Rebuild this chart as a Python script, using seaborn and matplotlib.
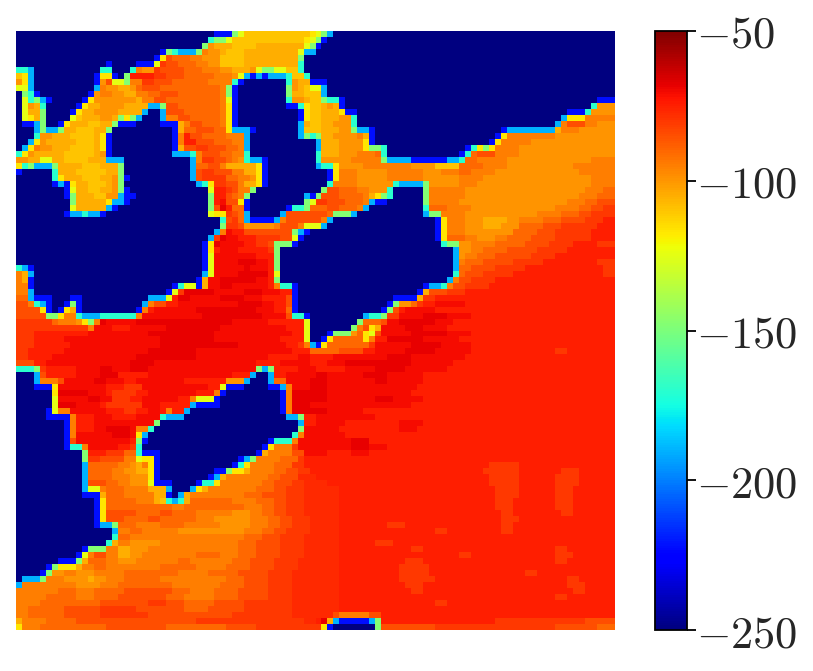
import matplotlib
matplotlib.use("Agg")
import matplotlib.pyplot as plt
import numpy as np
import seaborn as sns

# value of each letter used in the rows below
levels = {".": -250, "b": -222, "c": -190, "t": -170, "g": -148, "y": -125, "Y": -117,
          "A": -110, "B": -105, "C": -100, "D": -95, "E": -90, "F": -85, "G": -80,
          "L": -77, "H": -75, "I": -71, "J": -68}

# one string per row, "33b" = from column 33 on the value is b
rows = [
    "0. 33b 36g 37y 38A 49Y 50y 51g 52c 53.",
    "0. 32t 33g 35y 36A 48Y 49y 50g 51b 52.",
    "0. 31g 32C 33B 36A 40B 48y 49g 50b 51.",
    "0. 24b 25g 26t 27c 30g 31D 32C 34B 35A 38B 47y 48c 50.",
    "0. 23b 24Y 25F 26E 29D 31C 34A 38B 47g 48.",
    "0. 15b 16. 20b 23y 24G 25F 27E 30D 32C 34A 38B 47t 48.",
    "0t 2c 3. 14t 16. 19t 20D 21C 23G 24F 28E 31D 34C 36B 39C 40y 41g 43y 45A 47t 48.",
    "0A 1Y 2c 3. 13b 14Y 16b 17. 18g 19H 23G 25F 28E 33D 36C 37y 38c 39b 40c 41b 42c 45t 46A 48t 49.",
    "0C 1Y 2c 3. 13b 14C 15F 16y 18g 19D 21G 23F 26E 32D 36t 37b 38. 45t 46C 47B 49b 52.",
    "0y 2c 3. 13c 14D 15C 17B 19C 20E 21F 24E 34D 35g 36b 37. 45g 46C 47B 48A 49y 51c 52.",
    "0. 1g 2t 3b 4. 12b 13C 14D 16C 18B 20D 22E 24F 27E 34D 35g 36b 37. 45g 46B 48A 51c 52.",
    "0. 1y 2t 3g 4c 5b 6. 11b 12Y 13C 20B 21D 23F 25E 34D 35y 36b 37. 45t 46C 48B 49A 51g 52t 54b 55. 97b",
    "0. 1y 2C 3B 4t 5. 10b 11Y 12B 14C 18B 21B 22c 24g 25F 27E 34D 35Y 36b 37. 45b 47t 48Y 49A 51B 52C 53B 54b 55. 96t 97C",
    "0. 1y 2B 4g 5. 9b 10Y 11B 13C 17B 21c 22. 24c 25F 28E 34D 35Y 36b 37. 47b 48Y 49A 51B 54Y 55b 57. 92b 95t 96C",
    "0. 1y 2Y 3B 4g 5. 9y 10A 11B 14C 16B 17g 18Y 19g 20c 21. 24c 25D 27F 29E 34D 35Y 36b 37. 47b 48Y 49A 51B 54C 56t 57. 91c 92Y 95D",
    "0. 1b 3c 4g 5. 7b 8Y 9B 12A 14B 16g 17b 20. 24b 27B 28D 29F 31E 34D 35Y 36b 37. 47c 48B 49A 51B 53C 56t 57. 90c 91D 92F 95D 97C",
    "0. 3c 4g 5c 7g 8B 10A 13B 15g 16. 26b 27B 28E 30F 33E 35Y 36c 39b 40. 47c 48A 51B 54C 56g 57c 59b 60. 81b 82c 90B 91D 94C",
    "0. 3t 4C 6B 9A 13B 14Y 15b 16. 26b 27D 28H 29F 31E 35D 38c 39. 47c 48g 49t 50g 51B 53C 57D 58B 59b 60. 80b 81Y 82D 90C",
    "0. 2c 3Y 4C 5B 10A 13B 14Y 15b 16. 26b 27D 28H 30F 33E 36D 38c 39. 50c 51B 54C 58Y 59b 60. 79b 80Y 81D 86C",
    "0. 1c 2Y 3D 4C 6B 9A 13B 14Y 15b 16. 26b 27B 28F 30G 32F 35E 37D 38c 39. 50c 51B 54C 58Y 59g 61t 62. 75b 76t 77Y 78g 79Y 80D 84C",
    "0t 1Y 2C 3B 8A 13B 14C 15b 16. 26c 29t 30D 31F 34E 36D 38t 39. 50t 51B 54C 57D 60E 61t 62. 74b 75t 76E 77F 80D 84C",
    "0C 2B 4y 6B 8A 12B 15c 18. 29c 30D 31G 33F 35E 36D 37C 38t 39c 41b 42. 50t 51C 56D 61g 62c 66b 72c 74t 75E 77D 82C 96D",
    "0Y 1t 2g 3c 6g 7B 11A 14B 17g 18. 29c 30E 32F 34D 35B 40Y 41b 42. 50c 51t 53Y 54C 58D 66C 70A 74E 78D 82C 93D",
    "0b 1. 6t 7B 10A 15B 17g 18. 29c 30F 31G 33F 36D 38B 40Y 41b 42. 52b 53Y 54D 57C 62D 68C 71D 74E 76D 80C 94D",
    "0. 6t 7Y 8B 11A 14B 16C 17g 18b 19. 29c 30F 31G 35E 37D 39C 40Y 41b 42. 52b 53Y 54D 57C 62D 68C 74D 78C 96D",
    "0. 6b 7c 8b 9Y 10B 12A 15B 16C 17g 18. 30c 31t 32Y 33G 35F 37D 38B 40Y 41b 42. 52t 53D 57C 63t 64c 68g 69C 74D 77C 96D",
    "0. 8b 9y 10B 12A 14B 16C 17g 18b 19. 32y 33H 35G 36F 37D 39g 40. 51g 52F 54E 57D 59C 62t 63. 68g 69D 75C 95D 98E",
    "0. 8b 9g 10B 13A 15C 17c 18b 20. 32g 33H 35F 36E 37D 38g 39. 48c 49b 50g 51F 54E 58D 59B 60Y 61g 62t 63. 68g 69D 75C 94D 97E",
    "0. 9g 10B 15Y 16c 18b 19. 32g 33H 34I 35F 37Y 38b 39. 48g 49y 50G 52F 55E 58D 59c 60b 62. 68g 69D 74C 92D 95E 97F",
    "0. 9y 10B 15c 16b 17. 32g 33F 34J 35H 36E 38b 39. 45b 46t 48g 49E 52F 54E 57D 58c 59. 68t 69E 72D 76C 90D 94E 96F 98G",
    "0. 8b 9c 11t 12c 14b 15. 32y 33Y 35G 36F 37E 38c 39. 44c 45F 52E 53g 56c 57. 68c 69g 71D 75C 87D 91E 94F 96G",
    "0. 34t 35F 36G 37E 38c 39b 43c 44D 45F 51D 52c 53. 70b 71Y 72D 75C 78B 82C 84D 88E 91F 95G 98H",
    "0. 34g 35G 37F 38C 43D 44F 47D 48y 51c 52. 70b 71Y 72D 75C 78B 81C 84E 88F 91G 97H",
    "0. 33c 34D 35I 36H 38F 46g 47c 48b 49. 70b 71Y 72D 75C 83E 87F 90G 96H",
    "0. 32c 33G 34J 35I 37H 40G 44F 46y 47b 48. 70b 71Y 72E 75D 77C 80D 82E 86F 90G 96H",
    "0. 31b 32Y 33J 34I 38H 40G 42F 43g 46b 47. 71t 72g 74C 76D 80E 85F 89G 93H 97G",
    "0. 31b 32Y 33H 34I 37H 42G 43g 44. 73c 74C 76D 78E 82F 87G 92H",
    "0. 31b 32y 33I 40H 43g 44. 73c 74C 75D 77E 80F 86G 90H",
    "0. 31b 32y 33I 37J 40I 42H 43g 44. 73c 74D 75E 78F 83G 88H 97G",
    "0t 1c 2b 3. 31b 32y 33I 38J 39I 42H 43g 44. 73c 74E 76F 80G 85H 98G",
    "0D 1B 2c 3. 31c 32y 33I 37J 42H 43y 44. 73t 74E 75F 78G 83H 98G",
    "0D 1B 2b 3. 30b 31B 32I 34J 40I 42H 43g 44. 72c 73D 74F 76G 80H",
    "0D 2b 3. 26b 27t 28y 30b 31B 32I 34J 36I 42H 43D 44t 46b 47. 68b 69c 71t 72D 73F 75G 79H",
    "0D 2c 3. 25b 26y 27G 28J 33I 38J 41I 44H 46b 47. 67b 68B 69F 72G 75H",
    "0E 2c 3b 6. 9b 11. 22c 25y 26H 27J 29I 34J 38I 41H 45F 46b 47. 63b 67B 68G 70H",
    "0F 2D 3t 4c 5b 6. 8b 9g 10b 11. 21c 22D 23F 25H 27I 37J 41I 43H 45F 46b 47. 62b 63g 64C 66E 67G 68H 70I 75H",
    "0F 4Y 5b 6. 7b 8Y 9B 10b 11. 20b 21D 22H 23I 30J 40I 43H 45E 46b 47. 61b 62g 63F 64H 65I 70H",
    "0F 5g 7Y 8D 10t 11c 14t 20D 21I 31J 41I 45F 46t 48b 49. 58c 59t 61g 62G 64I 68J 72I 76H",
    "0G 6E 7D 10C 11Y 12g 13D 14J 15I 20J 36I 42H 48y 49. 57g 58E 61F 62I 64J 70I 73H",
    "0G 12D 13I 16H 19I 25J 34I 45H 48y 49. 56g 57D 58F 59Y 60B 61I 65J 68I 72H",
    "0G 3H 12I 22J 33I 46H 48y 49. 52b 53g 56C 57E 58Y 59y 60F 61I 66J 72I 76H",
    "0G 3H 8I 24J 33I 44H 48y 49. 51b 52Y 53E 58Y 59D 60H 62J 68I 74H",
    "0G 3H 9I 24J 37I 45H 47G 48D 49c 50b 51Y 52E 59G 60I 66J 71I 76H",
    "0G 2H 8I 22J 30I 46H 49E 54F 58H 60I 65J 70I 76H 90G 92H",
    "0G 2H 6I 20J 30I 42H 47I 49H 53I 62J 66I 75H",
    "0F 3H 5I 19J 23I 40H 44I 49H 52I 55J 66I 73H",
    "0t 3g 4G 5H 10I 14J 16I 19J 22I 40g 41c 42g 43H 47I 50H 55I 60J 65I 72H",
    "0. 3c 4F 5H 10I 14J 17H 22I 36H 39c 40. 42c 43H 45I 50J 52I 58J 62I 68H",
    "0. 3c 4D 7F 8I 13J 15I 18H 20I 28H 35C 38c 39. 42c 43E 45I 49J 52I 60J 62I 68H",
    "0. 3b 6Y 7I 15H 18G 21I 32H 34y 35b 38. 42b 44c 45D 46I 49J 52I 67H",
    "0. 6Y 7J 12I 15H 16G 20H 22I 30H 33D 34b 35. 44b 45D 46J 52I 66H",
    "0. 6y 7I 12J 14I 16G 19H 21I 27H 29D 30y 33b 34. 44b 45D 46J 52I 60J 63I 68H",
    "0. 6y 7J 10I 14H 15G 21I 24H 29c 30b 34. 44b 45D 46J 49I 66H",
    "0. 5b 6y 7D 9I 15H 18G 20H 22I 24H 25D 26H 28c 29. 44b 45D 46J 52I 58H",
    "0. 5b 9D 10H 13I 16H 20I 24t 25c 28. 45c 47g 48H 50I 60H",
    "0. 8b 9D 10H 13I 23g 24. 47c 48H 50I 55H 64I 68H",
    "0. 8b 9D 10H 13I 15J 19I 20D 22t 23. 47g 48I 54H 64I 67H",
    "0. 8b 9D 10I 16J 19I 20Y 21c 22. 46t 47D 48I 55H",
    "0. 8b 9F 10I 19H 20g 21b 22. 42b 43t 46D 47I 56J 59H",
    "0. 8b 9t 11D 12I 17H 19G 20t 21. 41b 42Y 43D 46G 47I 56J 59I 62H",
    "0. 11g 12H 15G 18E 20t 21b 24. 40b 41B 42D 46F 48I 52H 56I 59H",
    "0. 11g 12G 14F 18D 20y 21Y 23b 24. 37b 38c 39g 40D 44E 47G 48H",
    "0. 11c 12E 17D 19C 20B 21D 22Y 23b 24. 36b 37t 38Y 39D 43E 46G 48H 79G 84H",
    "0. 11c 12E 16D 18C 20B 22Y 23b 24. 33b 35g 36Y 38B 39D 43E 45F 47G 49H 78G 84H 91G 94H",
    "0. 11c 12E 16D 19C 22Y 23b 24. 32b 33c 34B 35D 42E 44F 47L 50H 79G 84H 90G 94H",
    "0. 11c 12F 15E 17D 19C 22y 23b 26. 30b 31t 33Y 34D 41E 43F 46G 48L 52H 79G 84H 90G 94H",
    "0. 11c 12y 14D 15E 18D 22B 25c 26. 29c 30Y 31B 32D 40E 43F 45G 48L 54H 80G 84H 90G 93H",
    "0. 11b 14B 15E 18D 23B 25b 26. 27c 28B 29D 38E 41F 45G 48L 54H 80G 84H 90G 93H",
    "0. 13b 14Y 15E 20D 23B 24A 25t 26c 27t 28B 29E 36D 40E 43F 45G 48L 54H 80G 83H 90G 93H",
    "0. 13b 14Y 15E 26D 28E 38D 41E 43F 45G 48L 54H 80G 83H 90G 93H",
    "0. 13b 14Y 15F 20E 24F 26E 30D 36C 39D 41E 43F 45G 48L 54H 81G 83H 91G 93H",
    "0. 13b 14Y 15F 18E 22F 24E 30D 33C 39D 42E 44F 46G 49L 54H 81G 84H",
    "0. 13b 14c 16g 17E 20D 24E 28D 34C 39D 42E 44F 46G 49L 54H 62G 65H 81G 83H",
    "0. 16c 17D 19E 21D 27C 38D 41E 43F 45G 49L 54H 70G 72H 81G 83H",
    "0. 16t 17E 19D 38E 41F 44G 48L 54H",
    "0. 15t 16B 17D 19C 24D 37E 40F 44G 48L 54H 60G 63H",
    "0. 11b 12g 15D 17B 19C 22D 37E 40F 44G 48L 54H 66G 68H 90G 92H",
    "0. 10b 11y 12D 13F 15D 17B 19C 21D 30E 34D 37E 40F 44G 48L 54H 74G 76H 90G 93H",
    "0. 7b 10g 11B 12E 15D 17C 20D 27E 29D 36E 39F 43G 47L 54H 65G 68H 90G 92H",
    "0. 5b 6g 7Y 10B 11D 13E 15D 24E 30D 35E 39F 43G 47L 54H 64G 69H",
    "0. 4b 5g 6C 8D 10C 13D 18E 27D 32E 37F 42G 46L 54H 64G 69H 85G 87H",
    "0. 1c 4g 5D 8C 12B 13C 15D 18E 24D 35E 38F 42G 46L 54H 64G 70H 92G 94H",
    "0c 1D 10C 14D 17E 26D 34E 38F 42G 46L 54H 65G 68H 92G 95H",
    "0D 7E 10D 13E 18F 26E 29D 33E 37F 42G 46L 54H 66G 68H 93G 95H",
    "0D 5E 10D 13E 17F 25E 28D 33E 37F 42G 46L 54H 90G 92H",
    "0D 4E 14F 22G 25F 28E 33F 38G 46L 54H 70G 72H",
    "0D 2E 8F 14G 20F 28E 32F 38G 46L 54H",
    "0D 2E 8F 14G 22F 36G 46L 53F 54D 59F 61H",
    "0B 1D 5E 10F 30G 48L 50H 51J 52B 53c 54b 59c 60g 61H 80G 95F",
    "0Y 1D 4E 15F 25E 35F 40G 51Y 52b 53. 60g 61F 70G 90F 97E",
]
cbar_ticks = [-50, -100, -150, -200, -250]

grid = np.full((100, 100), -250.0)
for i, row in enumerate(rows):
    tokens = row.split()
    starts = [int(t[:-1]) for t in tokens] + [100]
    for j, t in enumerate(tokens):
        grid[i, starts[j]:starts[j + 1]] = levels[t[-1]]

sns.set_theme(style="white")
plt.rcParams["mathtext.fontset"] = "cm"

W, H = 813, 671
fig = plt.figure(figsize=(W / 100, H / 100), dpi=100)
ax = fig.add_axes([16 / W, 1 - 630 / H, 599 / W, 599 / H])
cax = fig.add_axes([655 / W, 1 - 630 / H, 32 / W, 599 / H])

sns.heatmap(grid, ax=ax, cbar_ax=cax, cmap="jet", vmin=-250, vmax=-50,
            xticklabels=False, yticklabels=False)

cb = ax.collections[0].colorbar
cb.outline.set_visible(True)
cb.outline.set_edgecolor("black")
cb.outline.set_linewidth(1.3)
cb.set_ticks(cbar_ticks)
cb.set_ticklabels([f"$-{abs(v)}$" for v in cbar_ticks])
cax.tick_params(axis="y", right=True, length=6.5, width=1.3, color="black", labelsize=32, pad=0)

fig.savefig("out.png", dpi=100)
